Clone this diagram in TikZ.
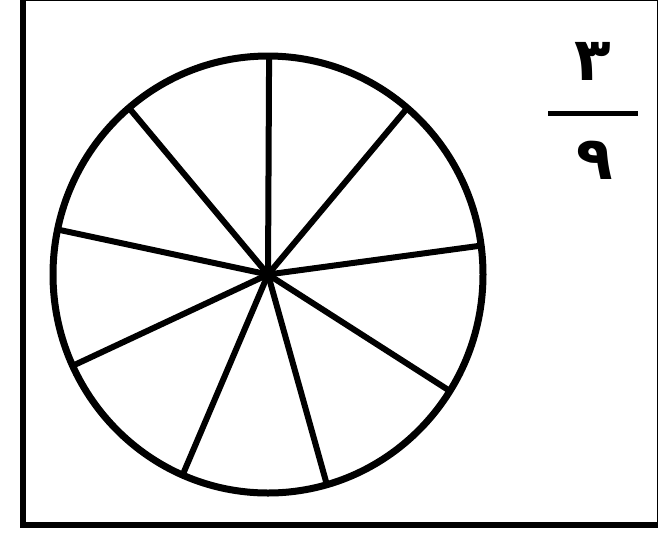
\documentclass[tikz,border=0pt]{standalone}
\usepackage{fontspec}
\newfontfamily\arabicfont[Script=Arabic]{DejaVu Sans}

\begin{document}
\begin{tikzpicture}[x=1pt, y=-1pt, spoke/.style={line width=6pt}, rim/.style={line width=7pt}, digit/.style={inner sep=0pt, font=\arabicfont\bfseries\fontsize{60}{60}\selectfont}]

\useasboundingbox (0,0) rectangle (658,539);

% Frame
\draw[line width=6.5pt] (23,-2.2) rectangle (660.2,525);

% Wheel
\node[circle, fill=black, inner sep=0pt, minimum size=14pt] (c) at (268,274.5) {};
\draw[rim] (c.center) ellipse [x radius=215, y radius=218.5];

% Spoke ends on the rim
\coordinate (s1) at (269.1,56);
\coordinate (s2) at (407.3,108);
\coordinate (s3) at (481.1,245.6);
\coordinate (s4) at (449.9,391);
\coordinate (s5) at (326.9,484.7);
\coordinate (s6) at (182.6,475);
\coordinate (s7) at (72.6,365.8);
\coordinate (s8) at (57.5,229.5);
\coordinate (s9) at (128.9,107.8);

% Spokes
\draw[spoke] (c.center) -- (s1);
\draw[spoke] (c.center) -- (s2);
\draw[spoke] (c.center) -- (s3);
\draw[spoke] (c.center) -- (s4);
\draw[spoke] (c.center) -- (s5);
\draw[spoke] (c.center) -- (s6);
\draw[spoke] (c.center) -- (s7);
\draw[spoke] (c.center) -- (s8);
\draw[spoke] (c.center) -- (s9);

% Fraction
\node[digit] (num) at (593,61) {٣};
\node[digit] (den) at (595,160) {٩};
\coordinate (barL) at (548,113);
\coordinate (barR) at (638,113);
\draw[line width=5pt] (barL) -- (barR);

\end{tikzpicture}
\end{document}
